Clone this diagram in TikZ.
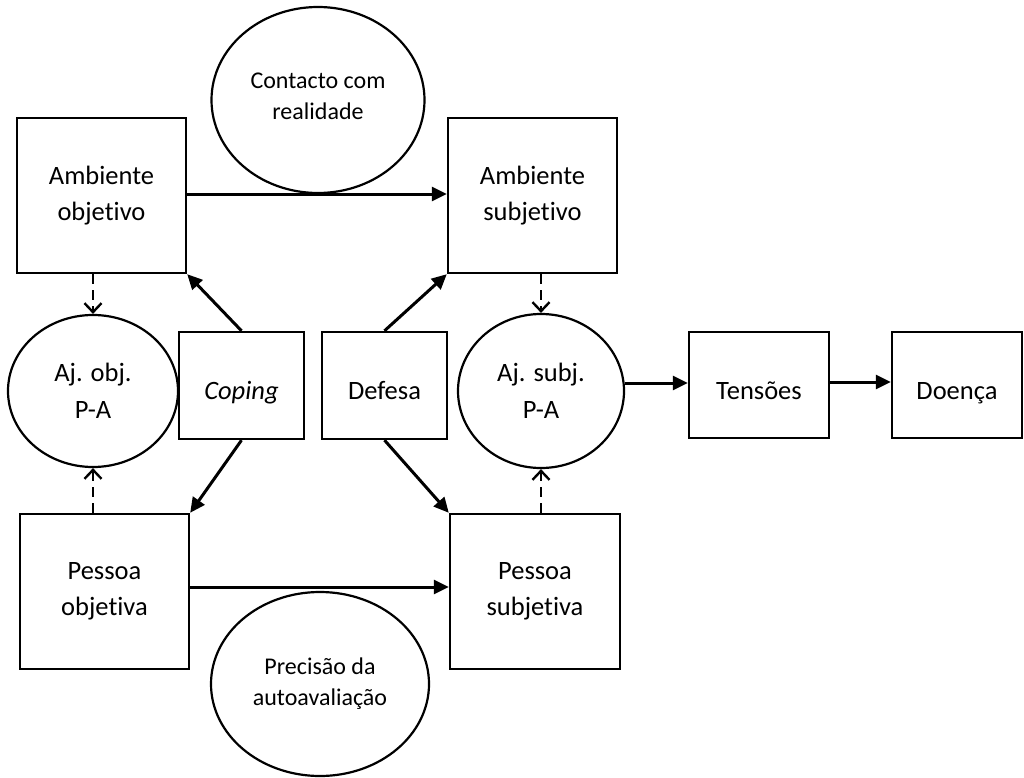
\documentclass[tikz,border=0pt]{standalone}
\usepackage{fontspec}
\setmainfont{Carlito}[Ligatures=NoCommon]
\usetikzlibrary{shapes.geometric,arrows.meta}
\begin{document}
\begin{tikzpicture}[x=1pt,y=-1pt,
  box/.style={draw,line width=2.4pt,inner sep=0pt,align=center,font=\fontsize{26.5}{36}\selectfont},
  onebox/.style={box,text height=30pt,text depth=2pt},
  oval/.style={draw,ellipse,line width=2.2pt,inner sep=0pt,align=center,font=\fontsize{26.5}{37}\selectfont},
  smalloval/.style={oval,font=\fontsize{24}{31}\selectfont},
  smalltext/.style={inner sep=0pt,align=center,font=\fontsize{24}{31}\selectfont},
  solidarrow/.style={line width=3pt,-{Triangle[length=15pt,width=14pt]}},
  dasharrow/.style={line width=2.4pt,dash pattern=on 10pt off 6pt,-{Straight Barb[length=9pt,width=17pt,line width=2.4pt]}}]
\useasboundingbox (0,0) rectangle (1024,778);
% boxes
\node[box,minimum width=169pt,minimum height=155pt] (aobj) at (101.5,195.5) {Ambiente\\objetivo};
\node[box,minimum width=169pt,minimum height=155pt] (asub) at (532.5,195.5) {Ambiente\\subjetivo};
\node[box,minimum width=169pt,minimum height=155pt] (pobj) at (104.5,591.5) {Pessoa\\objetiva};
\node[box,minimum width=170pt,minimum height=155pt] (psub) at (535,591.5) {Pessoa\\subjetiva};
\node[onebox,minimum width=125pt,minimum height=107pt] (coping) at (241.5,385.5) {\itshape Coping};
\node[onebox,minimum width=125pt,minimum height=107pt] (defesa) at (384.5,385.5) {Defesa};
\node[onebox,minimum width=140pt,minimum height=106pt] (tens) at (759,385) {Tensões};
\node[onebox,minimum width=130pt,minimum height=106pt] (doenca) at (957,385) {Doença};
% ellipses
\node[oval,minimum width=170pt,minimum height=152pt] (ajobj) at (93,391) {Aj. obj.\\P-A};
\node[oval,minimum width=166pt,minimum height=154pt] (ajsub) at (541,391) {Aj. subj.\\P-A};
\node[smalloval,minimum width=213pt,minimum height=186pt] (contato) at (318,100) {};
\node[smalltext] (contatotxt) at (318,96) {Contacto com\\realidade};
\node[smalloval,minimum width=218pt,minimum height=184pt] (precisao) at (320,684) {Precisão da\\autoavaliação};
% connectors
\draw[solidarrow] (aobj.east |- 0,194) -- (asub.west |- 0,194);
\draw[solidarrow] (pobj.east |- 0,587) -- (psub.west |- 0,587);
\draw[solidarrow] (coping.north) -- (aobj.south east);
\draw[solidarrow] (coping.south) -- (pobj.north east);
\draw[solidarrow] (defesa.north) -- (asub.south west);
\draw[solidarrow] (defesa.south) -- (psub.north west);
\draw[solidarrow] (ajsub.east |- 0,383) -- (tens.west |- 0,383);
\draw[solidarrow] (tens.east |- 0,382) -- (doenca.west |- 0,382);
\draw[dasharrow] (aobj.south -| ajobj.north) -- (ajobj.north);
\draw[dasharrow] (pobj.north -| ajobj.south) -- (ajobj.south);
\draw[dasharrow] (asub.south -| ajsub.north) -- (ajsub.north);
\draw[dasharrow] (psub.north -| ajsub.south) -- (ajsub.south);
\end{tikzpicture}
\end{document}
